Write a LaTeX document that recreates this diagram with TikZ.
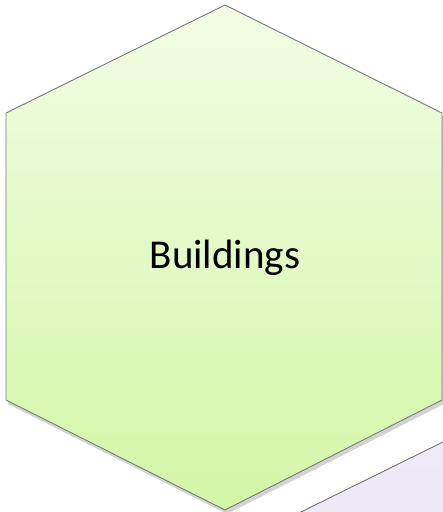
\documentclass[tikz,border=0pt]{standalone}
\usepackage{fontspec}
\setmainfont{Carlito}
\usetikzlibrary{shadows}
\definecolor{hexlight}{HTML}{F1FCE4}
\definecolor{hexdark}{HTML}{D3F6A6}
\definecolor{lilac}{HTML}{E7E1F4}
\definecolor{edge}{HTML}{7A7A7A}

\begin{document}
\begin{tikzpicture}[x=1pt,y=-1pt,hex/.style={draw=edge,line width=.9pt,line join=miter},label/.style={font=\fontsize{41}{49}\selectfont,text=black}]
\useasboundingbox (0,0) rectangle (443,512);
\clip (0,0) rectangle (443,512);
\fill[hex,top color=lilac!70,bottom color=lilac] (230,547)--(449,439)--(668,547)--(668,834)--(449,942)--(230,834)--cycle;
\draw[hex,top color=hexlight,bottom color=hexdark,drop shadow={shadow xshift=2pt,shadow yshift=-4pt,opacity=.35}] (225,5)--(442,113)--(442,400)--(225,510)--(6,400)--(6,113)--cycle;
\node[label] (buildings) at (225,258) {Buildings};
\end{tikzpicture}
\end{document}
